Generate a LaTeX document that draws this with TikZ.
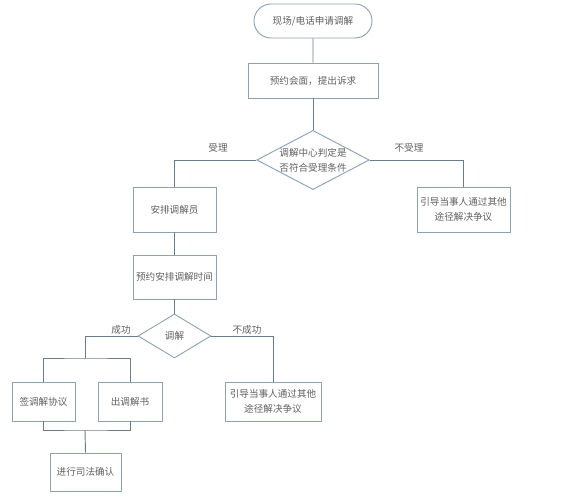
\documentclass[tikz,border=0pt]{standalone}
\usepackage{fontspec}
\setmainfont{Noto Sans CJK SC}
\usetikzlibrary{shapes.geometric,shapes.misc}
\definecolor{boxc}{HTML}{8AA3B8}
\definecolor{linec}{HTML}{687D8E}
\definecolor{txtc}{HTML}{606060}
\tikzset{
  base/.style={draw=boxc, line width=0.7pt, text=txtc, font=\fontsize{7.2}{11.2}\selectfont, align=center, inner sep=0pt},
  boxn/.style={base, rectangle, minimum width=#1*0.75pt},
  hgt/.style={minimum height=#1*0.75pt},
  term/.style={base, rounded rectangle, minimum width=118*0.75pt, minimum height=34*0.75pt},
  conn/.style={draw=linec, line width=0.7pt},
  lbl/.style={text=txtc, font=\fontsize{7.2}{9}\selectfont, inner sep=1pt}
}
\begin{document}
\begin{tikzpicture}[x=0.75pt,y=-0.75pt]
\useasboundingbox (0,0) rectangle (583,498);
\node[term] (start) at (313,21) {现场/电话申请调解};
\node[boxn=130, hgt=35] (appt) at (313,80.5) {预约会面，提出诉求};
\node[base, diamond, minimum width=110*0.75pt, minimum height=58*0.75pt, aspect=1.9] (judge) at (313,160) {调解中心判定是\\否符合受理条件};
\node[boxn=83, hgt=45] (assign) at (174.5,209.5) {安排调解员};
\node[boxn=93, hgt=45] (other1) at (463.5,209.5) {引导当事人通过其他\\途径解决争议};
\node[boxn=83, hgt=44] (time) at (174.5,277) {预约安排调解时间};
\node[base, diamond, minimum width=73*0.75pt, minimum height=44*0.75pt, aspect=1.66] (med) at (174.5,336) {调解};
\node[boxn=63, hgt=39] (sign) at (43.5,401.5) {签调解协议};
\node[boxn=64, hgt=39] (issue) at (130,401.5) {出调解书};
\node[boxn=96, hgt=39] (other2) at (273,401.5) {引导当事人通过其他\\途径解决争议};
\node[boxn=71, hgt=38] (conf) at (85.5,472) {进行司法确认};
\coordinate (jl) at (174.5,160);
\coordinate (jr) at (463.5,160);
\coordinate (ml) at (85,336);
\coordinate (split) at (85,358);
\coordinate (join) at (85,430);
\draw[conn] (start) -- (appt);
\draw[conn] (appt) -- (judge);
\draw[conn] (judge.west) -- (jl) -- (assign.north);
\draw[conn] (judge.east) -- (jr) -- (other1.north);
\draw[conn] (assign) -- (time);
\draw[conn] (time) -- (med);
\draw[conn] (med.west) -- (ml) -- (split);
\draw[conn] (sign.north) |- (split) -| (issue.north);
\draw[conn] (med.east) -| (other2.north);
\draw[conn] (sign.south) |- (join) -| (issue.south);
\draw[conn] (join) -- (conf.north);
\node[lbl] (l1) at (218,148) {受理};
\node[lbl] (l2) at (409,148) {不受理};
\node[lbl] (l3) at (121,330) {成功};
\node[lbl] (l4) at (247,330) {不成功};
\end{tikzpicture}
\end{document}
